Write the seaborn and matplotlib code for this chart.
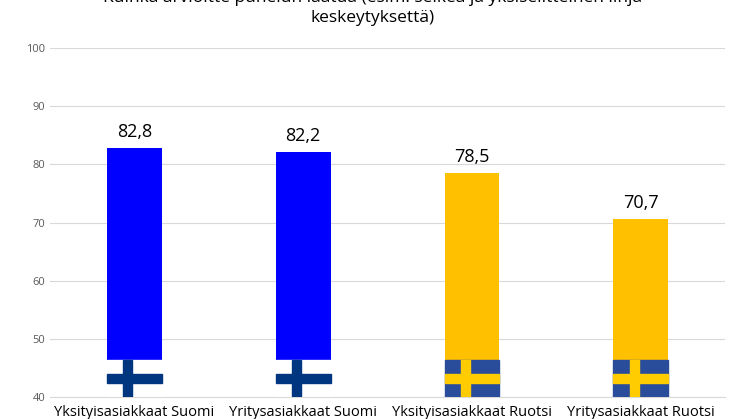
import matplotlib
matplotlib.use("Agg")
import matplotlib.pyplot as plt
import seaborn as sns
import pandas as pd
from matplotlib.patches import Rectangle

categories = ["Yksityisasiakkaat Suomi", "Yritysasiakkaat Suomi",
              "Yksityisasiakkaat Ruotsi", "Yritysasiakkaat Ruotsi"]
values = [82.8, 82.2, 78.5, 70.7]
countries = ["FI", "FI", "SE", "SE"]
value_labels = ["82,8", "82,2", "78,5", "70,7"]
yticks = [40, 50, 60, 70, 80, 90, 100]

BAR_COLORS = {"FI": "#0000ff", "SE": "#ffc000"}
FLAG_TOP = 46.4

df = pd.DataFrame({"cat": categories, "val": values, "country": countries})

plt.rcParams["font.family"] = "Open Sans"
fig = plt.figure(figsize=(7.46, 4.19), dpi=100)
ax = fig.add_axes([0.067, 0.0525, 0.905, 0.8325])

sns.barplot(data=df, x="cat", y="val", hue="cat",
            palette=[BAR_COLORS[c] for c in countries], saturation=1,
            width=0.325, legend=False, ax=ax, zorder=2)

ax.set_ylim(40, 100)
ax.set_yticks(yticks)
ax.tick_params(axis="y", labelsize=8, colors="#595959", length=0)
ax.tick_params(axis="x", labelsize=10.5, length=0, pad=6)
ax.grid(axis="y", color="#d9d9d9", linewidth=0.8, zorder=0)
for s in ["top", "right", "left"]:
    ax.spines[s].set_visible(False)
ax.spines["bottom"].set_color("#d9d9d9")
ax.set_xlabel("")
ax.set_ylabel("")

# flags at the foot of each bar
for patch, c, lab in zip(ax.patches, countries, value_labels):
    x0, w = patch.get_x(), patch.get_width()
    h = FLAG_TOP - 40
    if c == "FI":
        bg, cross = "#ffffff", "#003580"
    else:
        bg, cross = "#2a4d9b", "#fecc00"
    ax.add_patch(Rectangle((x0, 40), w, h, color=bg, zorder=3))
    ax.add_patch(Rectangle((x0, 40 + h * 0.37), w, h * 0.25, color=cross, zorder=4))
    ax.add_patch(Rectangle((x0 + w * 0.30, 40), w * 0.16, h, color=cross, zorder=4))
    ax.text(x0 + w / 2, patch.get_height() + 1.2, lab, ha="center", va="bottom",
            fontsize=13, zorder=5)

fig.text(0.5, 1.025, "Kuinka arvioitte puhelun laatua (esim. selkeä ja yksiselitteinen linja\nkeskeytyksettä)",
         ha="center", va="top", fontsize=12.5, linespacing=1.4)

fig.savefig("out.png", dpi=100)
